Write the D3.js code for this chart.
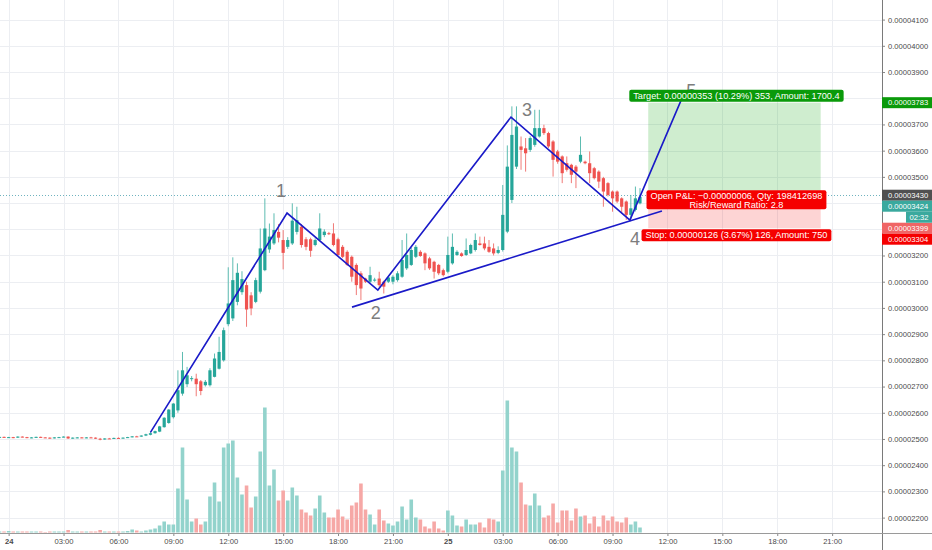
<!DOCTYPE html>
<html>
<head>
<meta charset="utf-8">
<script src="https://cdn.jsdelivr.net/npm/d3@7"></script>
<style>
  body { margin: 0; background: #fff; }
  svg { display: block; font-family: "Liberation Sans", Arial, sans-serif; }
</style>
</head>
<body>
<svg width="932" height="550"></svg>
<script>
// 15 minute candles, prices are in units of 0.00000001
// [open, high, low, close]
var ohlc = [
  [2506,2509,2504,2508],[2508,2509,2505,2506],[2506,2508,2504,2507],[2507,2508,2503,2505],
  [2505,2510,2504,2509],[2509,2510,2506,2507],[2507,2508,2503,2504],[2504,2507,2503,2506],
  [2506,2509,2505,2508],[2508,2509,2505,2506],[2506,2507,2504,2505],[2505,2506,2501,2503],
  [2503,2507,2502,2506],[2506,2508,2505,2507],[2507,2510,2506,2509],[2509,2510,2500,2502],
  [2502,2506,2501,2505],[2505,2507,2503,2506],[2506,2507,2503,2504],[2504,2507,2503,2506],
  [2506,2508,2504,2505],[2505,2506,2500,2501],[2501,2504,2495,2498],[2498,2503,2497,2502],
  [2502,2504,2500,2501],[2501,2505,2500,2504],[2504,2506,2502,2503],[2503,2506,2502,2505],
  [2505,2508,2504,2507],[2507,2511,2506,2510],[2510,2512,2508,2509],[2509,2514,2508,2513],
  [2513,2520,2511,2518],[2516,2526,2514,2522],[2522,2532,2520,2530],[2528,2550,2526,2548],
  [2545,2583,2543,2581],[2561,2614,2558,2612],[2583,2637,2578,2635],[2609,2762,2600,2686],
  [2673,2832,2665,2762],[2709,2775,2698,2743],[2730,2740,2720,2732],[2730,2749,2663,2709],
  [2720,2725,2667,2683],[2705,2725,2700,2718],[2705,2770,2700,2762],[2737,2826,2735,2807],
  [2768,2890,2765,2832],[2800,2925,2795,2915],[2938,3155,2930,3017],[2960,3193,2950,3106],
  [3023,3170,3010,3134],[3060,3140,3050,3110],[3087,3100,2928,2994],[3048,3060,2972,2998],
  [3023,3115,3018,3106],[3062,3303,3055,3227],[3144,3418,3140,3303],[3223,3322,3210,3272],
  [3246,3361,3240,3297],[3290,3320,3250,3268],[3259,3297,3147,3210],[3233,3270,3225,3259],
  [3246,3399,3240,3333],[3290,3386,3280,3335],[3310,3320,3230,3240],[3262,3270,3220,3233],
  [3262,3268,3195,3218],[3240,3265,3235,3259],[3259,3361,3255,3303],[3278,3300,3270,3291],
  [3285,3290,3278,3283],[3284,3323,3235,3240],[3262,3268,3198,3202],[3233,3240,3190,3195],
  [3214,3220,3160,3164],[3195,3200,3100,3119],[3164,3170,3049,3087],[3132,3140,3030,3074],
  [3112,3115,3095,3100],[3100,3157,3095,3125],[3106,3115,3100,3108],[3112,3138,3081,3087],
  [3100,3104,3055,3081],[3100,3120,3095,3116],[3100,3125,3090,3119],[3106,3140,3100,3132],
  [3119,3259,3115,3183],[3151,3284,3145,3202],[3164,3230,3160,3221],[3195,3240,3190,3233],
  [3214,3220,3195,3198],[3208,3212,3144,3170],[3189,3195,3145,3151],[3176,3180,3112,3138],
  [3164,3168,3125,3132],[3144,3150,3120,3125],[3138,3272,3132,3202],[3170,3284,3165,3233],
  [3202,3220,3198,3214],[3208,3212,3195,3198],[3202,3265,3198,3221],[3208,3245,3205,3240],
  [3221,3284,3215,3259],[3246,3272,3238,3240],[3246,3272,3220,3227],[3233,3259,3210,3214],
  [3227,3246,3200,3208],[3210,3235,3205,3221],[3221,3469,3215,3355],[3291,3620,3285,3539],
  [3412,3769,3400,3660],[3539,3769,3530,3692],[3616,3654,3527,3603],[3609,3648,3520,3590],
  [3603,3655,3595,3648],[3622,3756,3615,3686],[3654,3756,3650,3686],[3686,3699,3660,3667],
  [3667,3672,3610,3616],[3635,3640,3501,3565],[3597,3603,3550,3558],[3578,3582,3476,3514],
  [3552,3578,3520,3527],[3546,3550,3476,3508],[3539,3545,3457,3520],[3558,3654,3552,3584],
  [3558,3562,3548,3552],[3552,3597,3476,3514],[3533,3538,3490,3495],[3520,3525,3457,3482],
  [3495,3500,3386,3444],[3476,3480,3425,3431],[3444,3448,3367,3418],[3444,3448,3400,3406],
  [3418,3422,3361,3386],[3406,3410,3336,3355],[3355,3431,3340,3380],[3374,3463,3368,3418],
  [3399,3457,3395,3424]
];

var volume = [
  1,1,1.5,1,1,1,1,1,1,1,0.5,1,1,1,1,2.5,1,1,1,1,1,1,2.5,1,1,1,1,1,1.5,3,2,
  1,2,3,4,7,11,8,8,44,85,33,11,14,8,11,36,50,31,85,89,92,55,38,47,25,36,81,125,47,
  63,32,42,32,45,37,23,20,17,24,37,20,15,15,23,16,13,27,30,49,23,18,8,23,12,9,7,11,
  26,13,33,15,13,6,4,11,4,2,22,17,7,6,13,8,8,10,5,14,13,11,62,132,85,81,50,28,27,39,
  27,15,17,29,10,22,22,12,24,16,17,9,16,6,17,12,16,11,10,15,8,11,5
];

// time axis: candle index of each label
var timeTicks = [2,14,26,38,50,62,74,86,98,110,122,134,146,158,170,182];
var timeLabels = ["24","03:00","06:00","09:00","12:00","15:00","18:00","21:00",
                  "25","03:00","06:00","09:00","12:00","15:00","18:00","21:00"];
var dayLabels = ["24","25"];

var priceTicks = [2200,2300,2400,2500,2600,2700,2800,2900,3000,3100,3200,3300,3400,3500,3600,3700,3800,3900,4000,4100];

// elliott wave drawing: [candle index, price]
var wavePoints = [[33,2525],[62.85,3362],[82.7,3068],[111.8,3728],[137.8,3335],[149,3793]];
var waveNames = ["","1","2","3","4","5"];
var trendLine = [[77.05,3003],[144.8,3370]];

// long position tool
var entry = 3430, target = 3783, stop = 3304;
var positionSpan = [141.8, 179.5];
var targetAmount = "1700.4", stopAmount = "750", qty = "198412698", openPnl = "\u22120.00000006";

// tags on the price scale
var tagPrices = [3783, 3430, 3424, 3399, 3304];
var tagColors = ["#0a9a0a", "#505050", "#3aa99e", "#f06565", "#f50000"];
var countdown = "02:32";

let svg = d3.select("body").select("svg");
let width = 932, height = 550;

// plot area ends at the price scale on the right and the time scale at the bottom
let axisX = 882;
let axisY = 533;

let xScale = d3.scaleLinear().domain([0, 192.9]).range([-0.5, axisX]);
let yScale = d3.scaleLinear().domain([2200, 4100]).range([517.6, 19.6]);
let volScale = d3.scaleLinear().domain([0, 132]).range([532.5, 400.5]);

let fmt = function(p) { return (p * 1e-8).toFixed(8); };

svg.append("rect").attr("width", width).attr("height", height).attr("fill", "#fff");

let plot = svg.append("g").attr("id", "plot");

// grid
plot.append("g").selectAll("line").data(timeTicks).enter().append("line")
  .attr("x1", function(d) { return Math.round(xScale(d)) + 0.5; })
  .attr("x2", function(d) { return Math.round(xScale(d)) + 0.5; })
  .attr("y1", 0).attr("y2", axisY)
  .attr("stroke", "#eceef2");
plot.append("g").selectAll("line").data(priceTicks).enter().append("line")
  .attr("x1", 0).attr("x2", axisX)
  .attr("y1", function(d) { return Math.round(yScale(d)) + 0.5; })
  .attr("y2", function(d) { return Math.round(yScale(d)) + 0.5; })
  .attr("stroke", "#eceef2");

// volume
plot.append("g").selectAll("rect").data(volume).enter().append("rect")
  .attr("x", function(d, i) { return xScale(i) - 1.8; })
  .attr("width", 3.6)
  .attr("y", function(d) { return volScale(d); })
  .attr("height", function(d) { return volScale(0) - volScale(d); })
  .attr("fill", function(d, i) { return ohlc[i][3] >= ohlc[i][0] ? "#93d3cc" : "#f6a8a6"; });

// position tool boxes
let px0 = xScale(positionSpan[0]), px1 = xScale(positionSpan[1]);
plot.append("rect")
  .attr("x", px0).attr("width", px1 - px0)
  .attr("y", yScale(target)).attr("height", yScale(entry) - yScale(target))
  .attr("fill", "rgba(0,160,0,0.19)");
plot.append("rect")
  .attr("x", px0).attr("width", px1 - px0)
  .attr("y", yScale(entry)).attr("height", yScale(stop) - yScale(entry))
  .attr("fill", "rgba(245,40,40,0.2)");

// dotted price line
plot.append("line")
  .attr("x1", 0).attr("x2", axisX)
  .attr("y1", Math.round(yScale(entry)) + 0.5).attr("y2", Math.round(yScale(entry)) + 0.5)
  .attr("stroke", "#6fb3bf").attr("stroke-dasharray", "1,2");

// candles
let candles = plot.append("g").selectAll("g").data(ohlc).enter().append("g");
candles.append("line")
  .attr("x1", function(d, i) { return xScale(i); })
  .attr("x2", function(d, i) { return xScale(i); })
  .attr("y1", function(d) { return yScale(d[1]); })
  .attr("y2", function(d) { return yScale(d[2]); })
  .attr("stroke", function(d) { return d[3] >= d[0] ? "#5dbcb1" : "#f07a77"; })
  .attr("stroke-width", 1);
candles.append("rect")
  .attr("x", function(d, i) { return xScale(i) - 1.6; })
  .attr("width", 3.2)
  .attr("y", function(d) { return yScale(Math.max(d[0], d[3])); })
  .attr("height", function(d) { return Math.max(1, Math.abs(yScale(d[0]) - yScale(d[3]))); })
  .attr("fill", function(d) { return d[3] >= d[0] ? "#26a69a" : "#ef5350"; });

// wave lines
let line = d3.line()
  .x(function(d) { return xScale(d[0]); })
  .y(function(d) { return yScale(d[1]); });
plot.append("path").datum(wavePoints).attr("d", line)
  .attr("fill", "none").attr("stroke", "#1a1ac8").attr("stroke-width", 1.6);
plot.append("path").datum(trendLine).attr("d", line)
  .attr("fill", "none").attr("stroke", "#1a1ac8").attr("stroke-width", 1.6);

// wave numbers, pushed off the pivots a bit
let labelOffsets = [[0,0],[-6,-23],[-2,22],[16,-8],[5,18],[10,-10]];
plot.append("g").selectAll("text").data(wavePoints).enter().append("text")
  .attr("x", function(d, i) { return xScale(d[0]) + labelOffsets[i][0]; })
  .attr("y", function(d, i) { return yScale(d[1]) + labelOffsets[i][1] + 6.5; })
  .attr("text-anchor", "middle")
  .style("font-size", "18px")
  .attr("fill", "#7d7d7d")
  .text(function(d, i) { return waveNames[i]; });

// position tool labels
let mid = (px0 + px1) / 2 + 2;
function labelBox(lines, color, topY, h) {
  let g = plot.append("g");
  let r = g.append("rect").attr("fill", color).attr("rx", 2);
  let w = 0;
  lines.forEach(function(t, k) {
    let txt = g.append("text")
      .attr("x", mid).attr("y", topY + 9.2 + k * 8.6)
      .attr("text-anchor", "middle")
      .attr("fill", "#fff")
      .style("font-size", "9.2px")
      .text(t);
    w = Math.max(w, txt.node().getComputedTextLength());
  });
  r.attr("x", mid - w / 2 - 4).attr("width", w + 8).attr("y", topY).attr("height", h);
}
let pct = function(v) { return (v / entry * 100).toFixed(2) + "%"; };
labelBox(["Target: " + fmt(target - entry) + " (" + pct(target - entry) + ") " + (target - entry) + ", Amount: " + targetAmount],
  "#0a9a0a", yScale(target) - 13, 12);
labelBox(["Open P&L: " + openPnl + ", Qty: " + qty,
  "Risk/Reward Ratio: " + ((target - entry) / (entry - stop)).toFixed(1)],
  "#f50000", yScale(entry) - 5, 19);
labelBox(["Stop: " + fmt(entry - stop) + " (" + pct(entry - stop) + ") " + (entry - stop) + ", Amount: " + stopAmount],
  "#f50000", yScale(stop) + 1, 12);

// tags on the price scale, stacked so they do not overlap
let tagH = 11;
let tagY = tagPrices.map(function(p) { return yScale(p); });
for (let k = 1; k < tagY.length; k++) {
  let gap = (k === 3) ? 2 * tagH : tagH; // the countdown sits under the last price tag
  if (tagY[k] < tagY[k - 1] + gap) tagY[k] = tagY[k - 1] + gap;
}

// price scale, skipping the ticks that a tag sits on
let covered = function(p) {
  let y = yScale(p);
  return tagY.some(function(t) { return Math.abs(t - y) < tagH / 2 + 2; });
};
let yAxis = d3.axisRight(yScale)
  .tickValues(priceTicks.filter(function(p) { return !covered(p); }))
  .tickFormat(fmt).tickSize(3).tickPadding(3);
let yGroup = svg.append("g").attr("transform", "translate(" + axisX + ",0)").call(yAxis);
yGroup.select(".domain").remove();
yGroup.selectAll("line").attr("stroke", "#888");
yGroup.selectAll("text").attr("fill", "#4a4a4a").style("font-size", "7.6px")
  .style("font-family", "'Liberation Sans', Arial, sans-serif");

// time scale
let xAxis = d3.axisBottom(xScale).tickValues(timeTicks)
  .tickFormat(function(d, i) { return timeLabels[i]; }).tickSize(3).tickPadding(3);
let xGroup = svg.append("g").attr("transform", "translate(0," + axisY + ")").call(xAxis);
xGroup.select(".domain").remove();
xGroup.selectAll("line").attr("stroke", "#888");
xGroup.selectAll("text").attr("fill", "#4a4a4a").style("font-size", "7.6px")
  .style("font-family", "'Liberation Sans', Arial, sans-serif")
  .style("font-weight", function(d, i) { return dayLabels.indexOf(timeLabels[i]) >= 0 ? "bold" : "normal"; });

// axis lines
svg.append("line").attr("x1", axisX + 0.5).attr("x2", axisX + 0.5).attr("y1", 0).attr("y2", height)
  .attr("stroke", "#7a7a7a");
svg.append("line").attr("x1", 0).attr("x2", width).attr("y1", axisY + 0.5).attr("y2", axisY + 0.5)
  .attr("stroke", "#9a9a9a");

let tags = svg.append("g");
tagPrices.forEach(function(p, k) {
  tags.append("rect").attr("x", axisX).attr("width", width - axisX)
    .attr("y", tagY[k] - tagH / 2).attr("height", tagH).attr("fill", tagColors[k]);
  tags.append("text").attr("x", axisX + 6).attr("y", tagY[k] + 2.8)
    .attr("fill", "#fff").style("font-size", "7.6px").text(fmt(p));
});
// countdown to bar close
let cdY = tagY[2] + tagH;
tags.append("rect").attr("x", 906).attr("width", width - 906)
  .attr("y", cdY - tagH / 2).attr("height", tagH).attr("fill", tagColors[2]);
tags.append("text").attr("x", 919).attr("y", cdY + 2.8).attr("text-anchor", "middle")
  .attr("fill", "#fff").style("font-size", "7.6px").text(countdown);
</script>
</body>
</html>
